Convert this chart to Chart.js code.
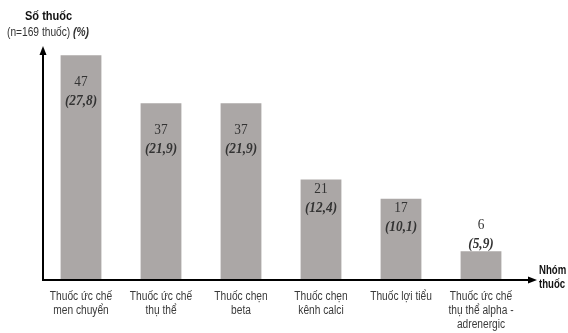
<!DOCTYPE html>
<html>
<head>
<meta charset="utf-8">
<script src="https://cdn.jsdelivr.net/npm/chart.js@4.4.1/dist/chart.umd.min.js"></script>
<style>
  html, body { margin: 0; padding: 0; background: #ffffff; }
  #wrap { width: 568px; height: 333px; position: relative; }
</style>
</head>
<body>
<div id="wrap"><canvas id="chart"></canvas></div>
<script>
// data
const categories = [
  ['Thuốc ức chế', 'men chuyển'],
  ['Thuốc ức chế', 'thụ thể'],
  ['Thuốc chẹn', 'beta'],
  ['Thuốc chẹn', 'kênh calci'],
  ['Thuốc lợi tiểu'],
  ['Thuốc ức chế', 'thụ thể alpha -', 'adrenergic']
];
const counts = [47, 37, 37, 21, 17, 6];
const percents = ['27,8', '21,9', '21,9', '12,4', '10,1', '5,9'];

const sans = "'Liberation Sans', Arial, sans-serif";
const serif = "'Liberation Serif', 'DejaVu Serif', serif";

// the source uses a narrow font, so squeeze the text horizontally
function narrowText(ctx, text, x, y, squeeze) {
  ctx.save();
  ctx.translate(x, y);
  ctx.scale(squeeze, 1);
  ctx.fillText(text, 0, 0);
  ctx.restore();
}

// axes with arrows, titles, category and value labels
const decorPlugin = {
  id: 'decor',
  afterDatasetsDraw(chart) {
    const ctx = chart.ctx;
    const area = chart.chartArea;
    const x0 = area.left + 2;
    const y0 = area.bottom;

    ctx.save();
    ctx.strokeStyle = '#000';
    ctx.fillStyle = '#000';
    ctx.lineWidth = 2;

    // y axis
    ctx.beginPath();
    ctx.moveTo(x0, y0 + 1);
    ctx.lineTo(x0, 54);
    ctx.stroke();
    ctx.beginPath();
    ctx.moveTo(x0, 46);
    ctx.lineTo(x0 - 3.5, 55);
    ctx.lineTo(x0 + 3.5, 55);
    ctx.closePath();
    ctx.fill();

    // x axis
    ctx.beginPath();
    ctx.moveTo(x0 - 1, y0);
    ctx.lineTo(529, y0);
    ctx.stroke();
    ctx.beginPath();
    ctx.moveTo(537, y0);
    ctx.lineTo(528, y0 - 3.5);
    ctx.lineTo(528, y0 + 3.5);
    ctx.closePath();
    ctx.fill();

    // axis titles
    ctx.fillStyle = '#111';
    ctx.textBaseline = 'middle';
    ctx.textAlign = 'left';
    ctx.font = "bold 13px " + sans;
    narrowText(ctx, 'Số thuốc', 25, 16, 0.85);
    ctx.font = "12px " + sans;
    ctx.fillStyle = '#333';
    const sub = '(n=169 thuốc) ';
    narrowText(ctx, sub, 7, 33, 0.85);
    const w = ctx.measureText(sub).width * 0.85;
    ctx.font = "italic bold 12px " + sans;
    narrowText(ctx, '(%)', 7 + w, 33, 0.85);

    ctx.fillStyle = '#111';
    ctx.font = "bold 12px " + sans;
    narrowText(ctx, 'Nhóm', 539, 271, 0.8);
    narrowText(ctx, 'thuốc', 539, 285, 0.8);

    // category labels under the axis
    const xScale = chart.scales.x;
    ctx.textAlign = 'center';
    ctx.fillStyle = '#3a3a3a';
    ctx.font = "12px " + sans;
    categories.forEach(function (lines, i) {
      const cx = xScale.getPixelForValue(i);
      lines.forEach(function (line, j) {
        narrowText(ctx, line, cx, y0 + 17 + j * 14, 0.85);
      });
    });

    // value labels on bars
    const meta = chart.getDatasetMeta(0);
    ctx.fillStyle = '#333';
    meta.data.forEach(function (bar, i) {
      const h = bar.base - bar.y;
      let top = h > 150 ? bar.y + 27 : bar.y + 10;
      if (h < 40) top = bar.y - 26;
      ctx.font = "14px " + serif;
      narrowText(ctx, String(counts[i]), bar.x, top, 0.95);
      ctx.font = "italic bold 14px " + serif;
      narrowText(ctx, '(' + percents[i] + ')', bar.x, top + 19, 0.95);
    });
    ctx.restore();
  }
};

new Chart(document.getElementById('chart'), {
  type: 'bar',
  data: {
    labels: categories,
    datasets: [{
      data: counts,
      backgroundColor: '#aba7a6',
      borderWidth: 0,
      categoryPercentage: 1,
      barPercentage: 0.51
    }]
  },
  options: {
    responsive: true,
    maintainAspectRatio: false,
    animation: false,
    layout: { padding: { left: 41, right: 47, top: 41, bottom: 53 } },
    plugins: {
      legend: { display: false },
      tooltip: { enabled: false }
    },
    scales: {
      x: {
        grid: { display: false, drawTicks: false },
        border: { display: false },
        ticks: { display: false }
      },
      y: {
        display: false,
        min: 0,
        max: 50
      }
    }
  },
  plugins: [decorPlugin]
});
</script>
</body>
</html>
